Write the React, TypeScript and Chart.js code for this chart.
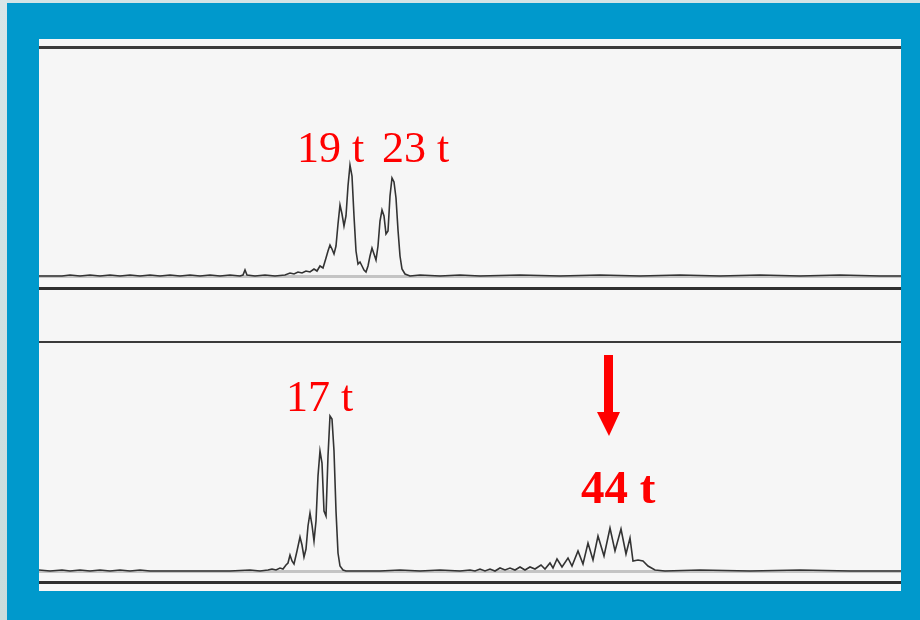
import React, { useEffect, useRef } from "react";
import { Chart, registerables } from "chart.js";

Chart.register(...registerables);

// Position along the gel trace (picture units) and signal height above baseline
const topPositions = [
  39, 62, 70, 80, 90, 100, 110, 120, 130, 140, 150, 160, 170, 180, 190, 200, 210, 220, 230, 240, 243, 245, 247, 255,
  265, 275, 285, 290, 294, 298, 302, 306, 310, 314, 317, 320, 323, 326, 328, 330, 332, 334, 336, 338, 340, 342, 344,
  346, 348, 350, 352, 354, 356, 358, 360, 362, 364, 366, 368, 370, 372, 374, 376, 378, 380, 382, 384, 386, 388, 390,
  392, 394, 396, 398, 400, 402, 405, 410, 420, 440, 460, 480, 520, 560, 600, 640, 680, 720, 760, 800, 840, 880, 901,
];
const topSignal = [
  0, 0, 1, 0, 1, 0, 1, 0, 1, 0, 1, 0, 1, 0, 1, 0, 1, 0, 1, 0, 1, 6, 1, 0,
  1, 0, 1, 3, 2, 4, 3, 5, 4, 7, 5, 10, 8, 18, 25, 31, 27, 22, 30, 52, 71, 62, 50,
  60, 90, 111, 100, 60, 25, 12, 14, 10, 6, 4, 10, 20, 28, 22, 16, 30, 55, 66, 60, 42, 45, 80,
  98, 94, 78, 46, 20, 7, 2, 0, 1, 0, 1, 0, 1, 0, 1, 0, 1, 0, 1, 0, 1, 0, 0,
];

const bottomPositions = [
  39, 50, 62, 70, 80, 90, 100, 110, 120, 130, 140, 150, 170, 190, 210, 230, 250, 260, 268, 272, 276, 280, 283, 286,
  288, 290, 292, 294, 297, 300, 302, 304, 306, 308, 310, 312, 314, 316, 318, 320, 322, 324, 326, 328, 330, 332, 334,
  336, 338, 340, 343, 346, 360, 380, 400, 420, 440, 460, 470, 475, 480, 485, 490, 495, 500, 505, 510, 515, 520, 525,
  530, 535, 541, 545, 550, 553, 557, 562, 568, 572, 578, 583, 588, 593, 598, 604, 610, 615, 621, 626, 630, 633, 638,
  643, 648, 655, 665, 700, 750, 800, 850, 901,
];
const bottomSignal = [
  1, 0, 1, 0, 1, 0, 1, 0, 1, 0, 1, 0, 0, 0, 0, 0, 1, 0, 1, 2, 1, 3, 2, 6,
  8, 16, 10, 7, 20, 34, 26, 14, 22, 45, 58, 46, 30, 50, 95, 120, 108, 60, 55, 115, 155, 152, 120,
  60, 18, 5, 1, 0, 0, 0, 1, 0, 1, 0, 1, 0, 2, 0, 2, 0, 3, 1, 3, 1, 4, 1,
  4, 2, 6, 2, 8, 3, 12, 4, 13, 5, 20, 7, 28, 11, 35, 15, 43, 20, 42, 17, 33, 10, 11,
  10, 5, 1, 0, 1, 0, 1, 0, 0,
];

const peakLabels = ["19 t", "23 t", "17 t", "44 t"];

function makeConfig(xs: number[], ys: number[], yMin: number, yMax: number, pad: { top: number; bottom: number }, borders: { top: number; bottom: number }) {
  return {
    type: "line" as const,
    data: {
      datasets: [
        {
          data: xs.map((x, i) => ({ x, y: ys[i] })),
          borderColor: "#333333",
          borderWidth: 1.6,
          pointRadius: 0,
          fill: false,
          tension: 0,
        },
      ],
    },
    options: {
      animation: false as const,
      responsive: false,
      maintainAspectRatio: false,
      events: [],
      layout: { padding: { left: 0, right: 0, top: pad.top, bottom: pad.bottom } },
      plugins: { legend: { display: false }, tooltip: { enabled: false }, title: { display: false } },
      scales: {
        x: {
          type: "linear" as const,
          position: "bottom" as const,
          min: 39,
          max: 901,
          ticks: { display: false, padding: 0 },
          grid: { display: false, drawTicks: false, tickLength: 0 },
          border: { display: true, color: "#2e2e2e", width: borders.bottom },
        },
        x2: {
          type: "linear" as const,
          position: "top" as const,
          min: 39,
          max: 901,
          ticks: { display: false, padding: 0 },
          grid: { display: false, drawTicks: false, tickLength: 0 },
          border: { display: true, color: "#3a3a3a", width: borders.top },
        },
        y: {
          type: "linear" as const,
          min: yMin,
          max: yMax,
          ticks: { display: false, padding: 0 },
          grid: { display: true, drawTicks: false, tickLength: 0, color: "#c4c4c4", lineWidth: 3 },
          border: { display: false },
          afterBuildTicks: (axis: any) => {
            axis.ticks = [{ value: 0 }];
          },
        },
      },
    },
  };
}

export default function App() {
  const topRef = useRef<HTMLCanvasElement>(null);
  const bottomRef = useRef<HTMLCanvasElement>(null);

  useEffect(() => {
    const c1 = new Chart(topRef.current!, makeConfig(topPositions, topSignal, -12, 229, { top: 8, bottom: 13 }, { top: 3, bottom: 3 }) as any);
    const c2 = new Chart(bottomRef.current!, makeConfig(bottomPositions, bottomSignal, -11, 229, { top: 41, bottom: 9 }, { top: 2, bottom: 3 }) as any);
    return () => {
      c1.destroy();
      c2.destroy();
    };
  }, []);

  const serif = '"Liberation Serif", "Times New Roman", Times, serif';
  const label = (text: string, left: number, top: number, size: number, bold: boolean) => (
    <div
      style={{
        position: "absolute",
        left,
        top,
        fontFamily: serif,
        fontSize: size,
        fontWeight: bold ? 700 : 400,
        lineHeight: 1,
        color: "#ff0000",
        whiteSpace: "nowrap",
        margin: 0,
      }}
    >
      {text}
    </div>
  );

  return (
    <div style={{ position: "absolute", left: 0, top: 0, width: 920, height: 620, background: "#0099cc", overflow: "hidden" }}>
      <div style={{ position: "absolute", left: 0, top: 0, width: 920, height: 3, background: "#d3e4e6" }} />
      <div style={{ position: "absolute", left: 0, top: 0, width: 7, height: 620, background: "linear-gradient(#d6e6e8, #c9dcdc)" }} />
      <div style={{ position: "absolute", left: 39, top: 39, width: 862, height: 552, background: "#f6f6f6" }} />
      <canvas ref={topRef} width={862} height={262} style={{ position: "absolute", left: 39, top: 39, width: 862, height: 262 }} />
      <canvas ref={bottomRef} width={862} height={290} style={{ position: "absolute", left: 39, top: 301, width: 862, height: 290 }} />
      {label(peakLabels[0], 297, 126, 44, false)}
      {label(peakLabels[1], 382, 126, 44, false)}
      {label(peakLabels[2], 286, 375, 44, false)}
      {label(peakLabels[3], 581, 464, 47, true)}
      <svg width={920} height={620} style={{ position: "absolute", left: 0, top: 0, pointerEvents: "none" }}>
        <polygon points="604,355 613,355 613,412 620,412 609,436 597,412 604,412" fill="#ff0000" />
      </svg>
    </div>
  );
}
